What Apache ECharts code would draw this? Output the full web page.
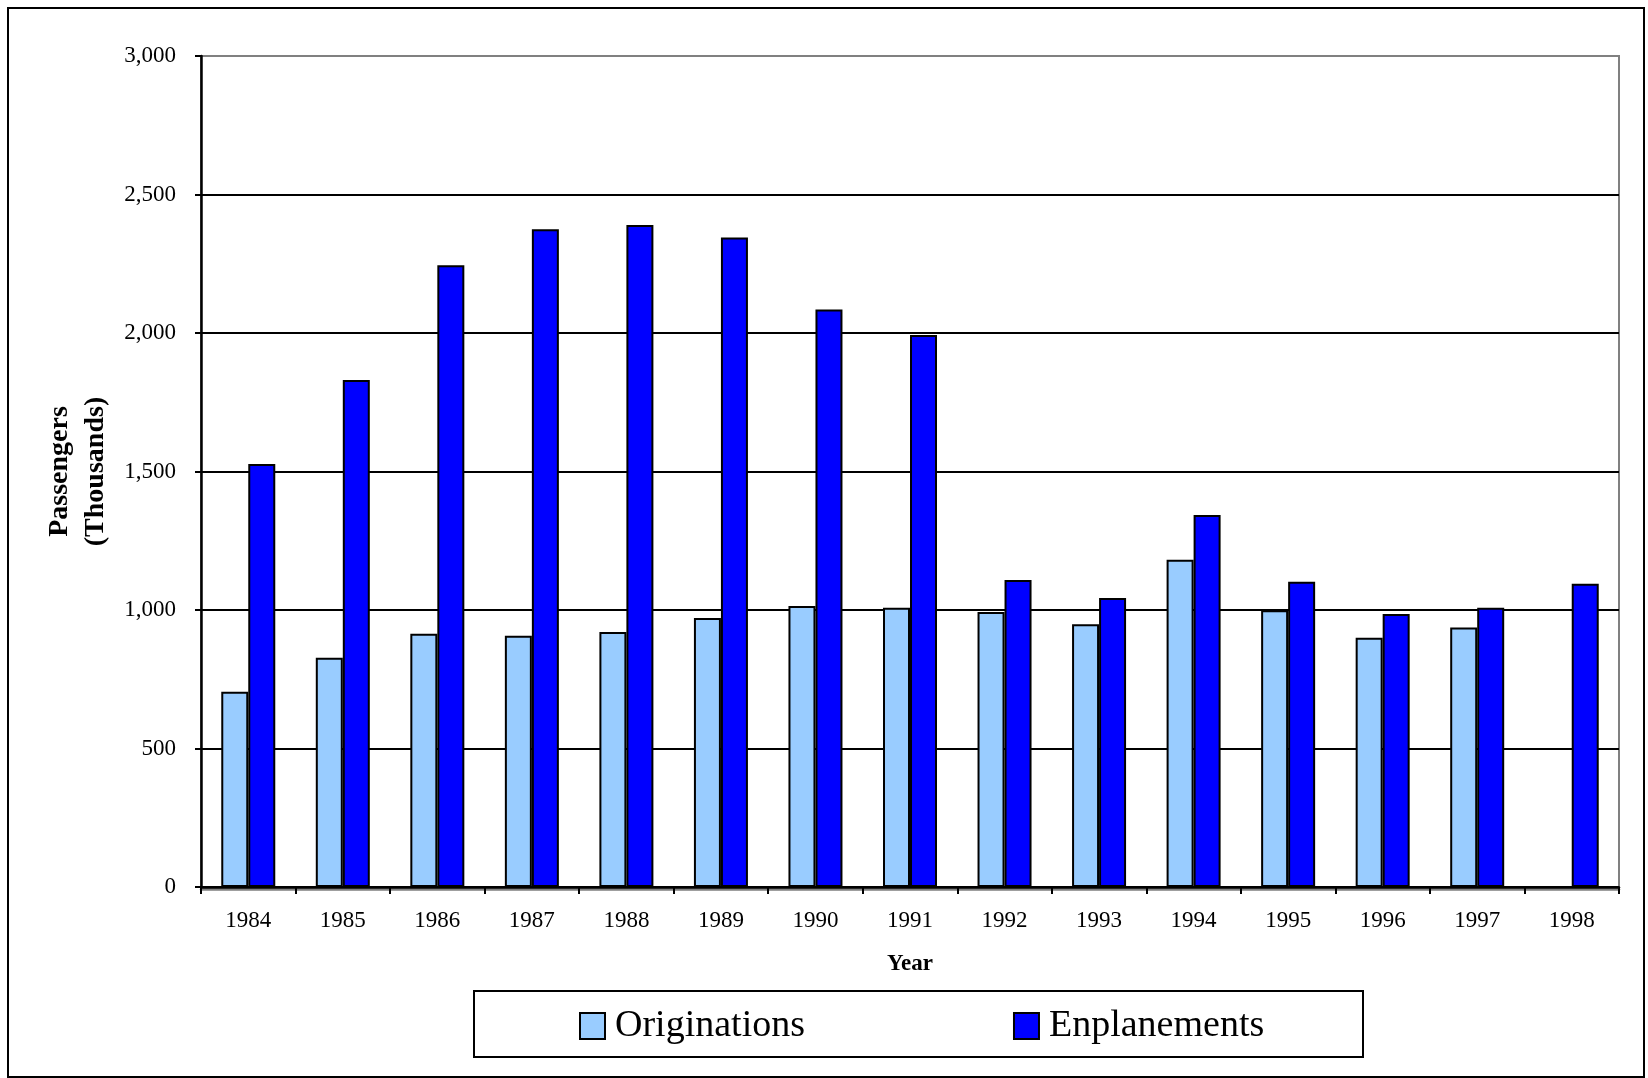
<!DOCTYPE html>
<html>
<head>
<meta charset="utf-8">
<title>Passengers 1984–1998</title>
<script src="https://cdn.jsdelivr.net/npm/echarts@6/dist/echarts.min.js"></script>
<style>
  html, body { margin: 0; padding: 0; background: #ffffff; }
  #chart { width: 1648px; height: 1078px; }
</style>
</head>
<body>
<div id="chart"></div>
<script>
// Years on the category axis
const years = ['1984', '1985', '1986', '1987', '1988', '1989', '1990', '1991',
               '1992', '1993', '1994', '1995', '1996', '1997', '1998'];

// Passengers in thousands
const originations = [705, 828, 914, 907, 921, 971, 1014, 1008, 993, 949, 1181, 999, 900, 937, null];
const enplanements = [1527, 1830, 2245, 2375, 2390, 2345, 2085, 1993, 1108, 1043, 1343, 1102, 986, 1008, 1095];

// Value-axis range
const yMin = 0;
const yMax = 3000;
const yStep = 500;

const seriesNames = ['Originations', 'Enplanements'];
const seriesColors = ['#99CCFF', '#0000FF'];

const serif = '"Liberation Serif", "Times New Roman", serif';

const chart = echarts.init(document.getElementById('chart'), null, { renderer: 'canvas' });

// gridlines are black, the one on top of the frame is grey
const splitColors = [];
for (let v = yMin; v <= yMax; v += yStep) splitColors.push(v === yMax ? '#808080' : '#000000');

chart.setOption({
  backgroundColor: '#ffffff',
  animation: false,
  grid: {
    left: 201, right: 29, top: 56, bottom: 191,
    show: true,
    borderColor: '#808080',
    borderWidth: 2,
    backgroundColor: 'transparent'
  },
  legend: {
    data: seriesNames,
    left: 579,
    top: 1007,
    padding: 0,
    itemWidth: 25,
    itemHeight: 26,
    itemGap: 208,
    icon: 'rect',
    itemStyle: { borderColor: '#000000', borderWidth: 2 },
    textStyle: { fontFamily: serif, fontSize: 38, color: '#000000', padding: [0, 0, 0, 5] }
  },
  xAxis: {
    type: 'category',
    data: years,
    boundaryGap: true,
    name: 'Year',
    nameLocation: 'middle',
    nameGap: 66,
    nameTextStyle: { fontFamily: serif, fontSize: 23, fontWeight: 'bold', color: '#000000' },
    axisLine: {
      show: true,
      lineStyle: { color: '#000000', width: 2.5, shadowColor: '#808080', shadowOffsetY: 2 }
    },
    axisTick: { show: true, inside: false, length: 7, lineStyle: { color: '#000000', width: 2 } },
    axisLabel: { fontFamily: serif, fontSize: 23, color: '#000000', margin: 22 },
    splitLine: { show: false }
  },
  yAxis: {
    type: 'value',
    min: yMin,
    max: yMax,
    interval: yStep,
    name: 'Passengers\n(Thousands)',
    nameLocation: 'middle',
    nameRotate: 90,
    nameGap: 87,
    nameTextStyle: { fontFamily: serif, fontSize: 28, fontWeight: 'bold', color: '#000000', lineHeight: 36, align: 'center' },
    axisLine: { show: true, lineStyle: { color: '#000000', width: 2.5 } },
    axisTick: { show: true, inside: false, length: 6, lineStyle: { color: '#000000', width: 2 } },
    axisLabel: {
      fontFamily: serif, fontSize: 23, color: '#000000', margin: 25,
      formatter: v => v.toLocaleString('en-US')
    },
    splitLine: { show: true, lineStyle: { color: splitColors, width: 2 } }
  },
  series: [
    {
      name: seriesNames[0],
      type: 'bar',
      data: originations,
      barWidth: 27,
      barGap: '0%',
      itemStyle: { color: seriesColors[0], borderColor: '#000000', borderWidth: 2 }
    },
    {
      name: seriesNames[1],
      type: 'bar',
      data: enplanements,
      barWidth: 27,
      barGap: '0%',
      itemStyle: { color: seriesColors[1], borderColor: '#000000', borderWidth: 2 }
    }
  ],
  graphic: [
    // outer frame of the chart
    {
      type: 'rect',
      shape: { x: 8, y: 8, width: 1636, height: 1069 },
      style: { fill: 'none', stroke: '#000000', lineWidth: 2 },
      silent: true
    },
    // frame around the legend
    {
      type: 'rect',
      shape: { x: 474, y: 991, width: 889, height: 66 },
      style: { fill: 'none', stroke: '#000000', lineWidth: 2 },
      silent: true
    }
  ]
});
</script>
</body>
</html>
